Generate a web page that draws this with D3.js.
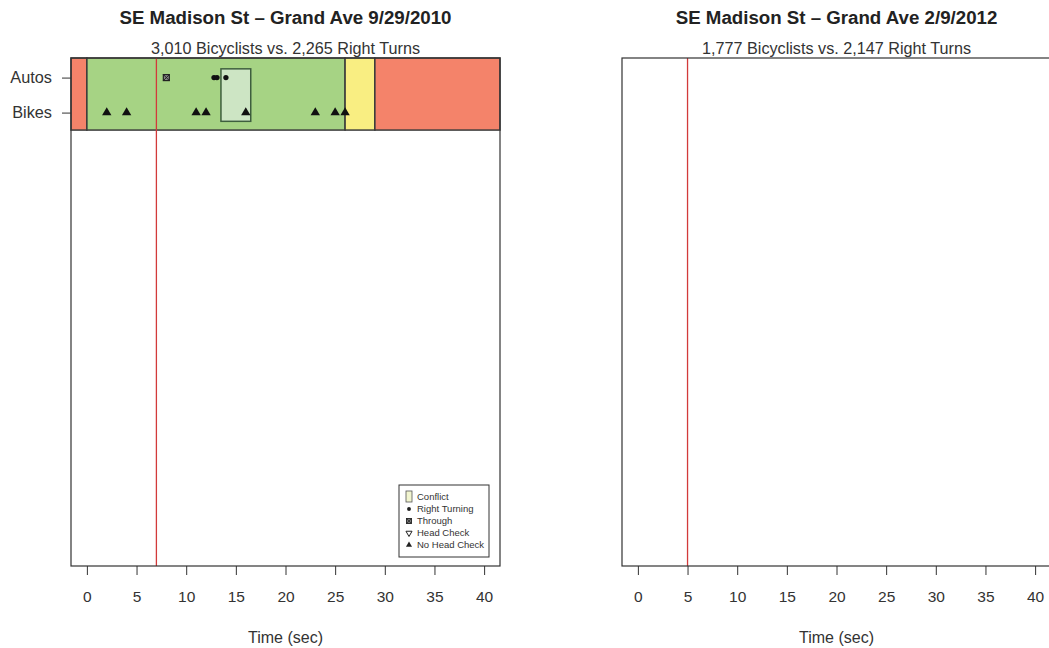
<!DOCTYPE html>
<html>
<head>
<meta charset="utf-8">
<script src="https://cdn.jsdelivr.net/npm/d3@7"></script>
<style>
  body { margin: 0; background: #fff; }
  svg { display: block; font-family: "Liberation Sans", Arial, sans-serif; }
</style>
</head>
<body>
<svg id="chart" width="1049" height="648"></svg>
<script>
// chart data
var panelTitles = ["SE Madison St \u2013 Grand Ave 9/29/2010", "SE Madison St \u2013 Grand Ave 2/9/2012"];
var panelSubtitles = ["3,010 Bicyclists vs. 2,265 Right Turns", "1,777 Bicyclists vs. 2,147 Right Turns"];
var redLineTimes = [7, 5];

var rowLabels = ["Autos", "Bikes"];
var rowValues = [2, 1];

// signal phases (left panel only)
var phaseNames = ["red", "green", "yellow", "red"];
var phaseStarts = [-2, 0, 26, 29];
var phaseEnds = [0, 26, 29, 42];

// conflict window
var conflictTimes = [13.5, 16.5];
var conflictRows = [0.75, 2.25];

var rightTurnTimes = [12.8, 13.1, 14];
var throughTimes = [8];
var noHeadCheckTimes = [2, 4, 11, 12, 16, 23, 25, 26];

var xTicks = [0, 5, 10, 15, 20, 25, 30, 35, 40];
var legendLabels = ["Conflict", "Right Turning", "Through", "Head Check", "No Head Check"];

var phaseColor = d3.scaleOrdinal()
    .domain(["red", "green", "yellow"])
    .range(["#f4836a", "#a6d384", "#f9ee82"]);

var svg = d3.select("#chart");
var plotTop = 58, plotBottom = 566;
var panelLefts = [71, 622];
var plotWidth = 429;

function draw_panel(i){
    var left = panelLefts[i];
    var x = d3.scaleLinear()
        .domain([-1.6, 41.6])
        .range([left, left + plotWidth])
        .clamp(true);
    var y = d3.scaleLinear()
        .domain([-11.96, 2.56])
        .range([plotBottom, plotTop]);

    var g = svg.append("g").attr("id", "panel" + i);
    var cx = left + plotWidth / 2;

    g.append("text")
        .attr("x", cx).attr("y", 24)
        .attr("text-anchor", "middle")
        .style("font-size", "18.7px").style("font-weight", "bold")
        .attr("fill", "#222")
        .text(panelTitles[i]);

    g.append("text")
        .attr("x", cx).attr("y", 54)
        .attr("text-anchor", "middle")
        .style("font-size", "16.2px")
        .attr("fill", "#333")
        .text(panelSubtitles[i]);

    if (i == 0) {
        // signal phase band
        var phases = phaseNames.map(function(d, k){ return {name: d, start: phaseStarts[k], end: phaseEnds[k]}; });
        g.selectAll(".phase").data(phases).enter().append("rect")
            .attr("class", "phase")
            .attr("x", function(d){ return x(d.start); })
            .attr("width", function(d){ return x(d.end) - x(d.start); })
            .attr("y", plotTop)
            .attr("height", y(0.5) - plotTop)
            .attr("fill", function(d){ return phaseColor(d.name); })
            .attr("stroke", "#3b3b3b")
            .attr("stroke-width", 1.5);

        g.append("rect")
            .attr("x", x(conflictTimes[0]))
            .attr("width", x(conflictTimes[1]) - x(conflictTimes[0]))
            .attr("y", y(conflictRows[1]))
            .attr("height", y(conflictRows[0]) - y(conflictRows[1]))
            .attr("fill", "#cde5c4")
            .attr("stroke", "#3e5e3e")
            .attr("stroke-width", 1.5);
    }

    // red reference line
    g.append("line")
        .attr("x1", x(redLineTimes[i])).attr("x2", x(redLineTimes[i]))
        .attr("y1", plotTop).attr("y2", plotBottom)
        .attr("stroke", "#d23a3a").attr("stroke-width", 1.3);

    if (i == 0) {
        g.selectAll(".turn").data(rightTurnTimes).enter().append("path")
            .attr("class", "turn")
            .attr("transform", function(d){ return "translate(" + x(d) + "," + y(2) + ")"; })
            .attr("d", d3.symbol().type(d3.symbolCircle).size(22))
            .attr("fill", "#111");

        var th = g.selectAll(".through").data(throughTimes).enter().append("g")
            .attr("class", "through")
            .attr("transform", function(d){ return "translate(" + x(d) + "," + y(2) + ")"; });
        th.append("rect").attr("x", -3).attr("y", -3).attr("width", 6).attr("height", 6)
            .attr("fill", "#888").attr("stroke", "#222").attr("stroke-width", 1.2);
        th.append("path").attr("d", "M-3,-3L3,3M3,-3L-3,3")
            .attr("stroke", "#222").attr("stroke-width", 1);

        g.selectAll(".nohead").data(noHeadCheckTimes).enter().append("path")
            .attr("class", "nohead")
            .attr("transform", function(d){ return "translate(" + x(d) + "," + y(1) + ")"; })
            .attr("d", d3.symbol().type(d3.symbolTriangle).size(38))
            .attr("fill", "#111");
    }

    // plot box
    g.append("rect")
        .attr("x", left).attr("y", plotTop)
        .attr("width", plotWidth).attr("height", plotBottom - plotTop)
        .attr("fill", "none").attr("stroke", "#333").attr("stroke-width", 1.2);

    // x axis
    var xa = g.append("g")
        .attr("transform", "translate(0," + plotBottom + ")")
        .call(d3.axisBottom(x).tickValues(xTicks).tickSize(9).tickPadding(16));
    xa.select(".domain").remove();
    xa.selectAll("line").attr("stroke", "#333");
    xa.selectAll("text").style("font-size", "15.5px").style("font-family", "Liberation Sans, Arial, sans-serif").attr("fill", "#333");

    g.append("text")
        .attr("x", cx).attr("y", 643)
        .attr("text-anchor", "middle")
        .style("font-size", "16px")
        .attr("fill", "#333")
        .text("Time (sec)");

    if (i == 0) {
        var ya = g.append("g")
            .attr("transform", "translate(" + left + ",0)")
            .call(d3.axisLeft(y).tickValues(rowValues).tickSize(9).tickPadding(10)
                .tickFormat(function(d){ return rowLabels[rowValues.indexOf(d)]; }));
        ya.select(".domain").remove();
        ya.selectAll("line").attr("stroke", "#333");
        ya.selectAll("text").style("font-size", "16.3px").style("font-family", "Liberation Sans, Arial, sans-serif").attr("fill", "#333");

        draw_legend(g);
    }
}

function draw_legend(g){
    var lg = g.append("g").attr("transform", "translate(399,485)");
    lg.append("rect").attr("width", 90).attr("height", 72)
        .attr("fill", "#fff").attr("stroke", "#333").attr("stroke-width", 1);

    var ly = d3.scalePoint().domain(legendLabels).range([12, 60]);
    lg.selectAll(".ltext").data(legendLabels).enter().append("text")
        .attr("class", "ltext")
        .attr("x", 18).attr("y", function(d){ return ly(d); })
        .attr("dy", "0.35em")
        .style("font-size", "9.5px").attr("fill", "#333")
        .text(function(d){ return d; });

    var sx = 10;
    lg.append("rect").attr("x", sx - 3).attr("y", ly("Conflict") - 6).attr("width", 6).attr("height", 11)
        .attr("fill", "#f2f5cf").attr("stroke", "#555").attr("stroke-width", 0.8);
    lg.append("path").attr("transform", "translate(" + sx + "," + ly("Right Turning") + ")")
        .attr("d", d3.symbol().type(d3.symbolCircle).size(12)).attr("fill", "#222");
    var t = lg.append("g").attr("transform", "translate(" + sx + "," + ly("Through") + ")");
    t.append("rect").attr("x", -2.5).attr("y", -2.5).attr("width", 5).attr("height", 5)
        .attr("fill", "#777").attr("stroke", "#222").attr("stroke-width", 0.9);
    t.append("path").attr("d", "M-2.5,-2.5L2.5,2.5M2.5,-2.5L-2.5,2.5").attr("stroke", "#222").attr("stroke-width", 0.7);
    lg.append("path").attr("transform", "translate(" + sx + "," + ly("Head Check") + ") rotate(180)")
        .attr("d", d3.symbol().type(d3.symbolTriangle).size(16))
        .attr("fill", "none").attr("stroke", "#222").attr("stroke-width", 1);
    lg.append("path").attr("transform", "translate(" + sx + "," + ly("No Head Check") + ")")
        .attr("d", d3.symbol().type(d3.symbolTriangle).size(16)).attr("fill", "#222");
}

draw_panel(0);
draw_panel(1);
</script>
</body>
</html>
